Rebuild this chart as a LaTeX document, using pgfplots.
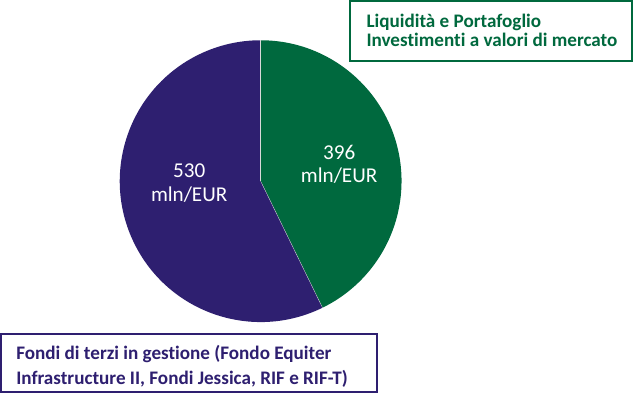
\documentclass[border=0pt]{standalone}
\usepackage{pgfplots}
\usepackage{pgfplotstable}
\pgfplotsset{compat=1.18}
\usepackage{fontspec}
\setmainfont{Carlito}[Ligatures=NoCommon]
\definecolor{pgreen}{RGB}{0,105,62}
\definecolor{ppurple}{RGB}{46,31,112}
\pgfplotstableread{
label value
Liquidita 396
Fondi 530
}\piedata
\begin{document}
\begin{tikzpicture}
\pgfplotstablegetelem{0}{value}\of\piedata \let\va\pgfplotsretval
\pgfplotstablegetelem{1}{value}\of\piedata \let\vb\pgfplotsretval
\pgfmathsetmacro{\frac}{\va/(\va+\vb)}
\pgfmathsetmacro{\angA}{90-360*\frac}
\begin{axis}[x=1pt,y=1pt,xmin=0,xmax=633,ymin=0,ymax=395,hide axis,clip=false,scale only axis]
\fill[pgreen] (axis cs:260,215) -- (axis cs:260,355) arc[start angle=90,end angle=\angA,radius=140pt] -- cycle;
\fill[ppurple] (axis cs:260,215) -- ++(\angA:140pt) arc[start angle=\angA,end angle=-270,radius=140pt] -- cycle;
\draw[white!70!gray,line width=0.3pt] (axis cs:260,215) -- (axis cs:260,355);
\draw[white!70!gray,line width=0.3pt] (axis cs:260,215) -- ++(\angA:140pt);
% labels
\node[white,font=\fontsize{21}{24}\selectfont] at (axis cs:338,244) {\va};
\node[white,font=\fontsize{21}{24}\selectfont] at (axis cs:338,220) {mln/EUR};
\node[white,font=\fontsize{21}{24}\selectfont] at (axis cs:189,225) {\vb};
\node[white,font=\fontsize{21}{24}\selectfont] at (axis cs:189,202) {mln/EUR};
% green box
\draw[pgreen,line width=2pt,fill=white] (axis cs:349,334) rectangle (axis cs:629,394);
\node[pgreen,anchor=base west,inner sep=0pt,font=\bfseries\fontsize{19}{23}\selectfont] at (axis cs:365,368) {Liquidità e Portafoglio};
\node[pgreen,anchor=base west,inner sep=0pt,font=\bfseries\fontsize{19}{23}\selectfont] at (axis cs:365,349) {Investimenti a valori di mercato};
% purple box
\draw[ppurple,line width=2pt,fill=white] (axis cs:2,5) rectangle (axis cs:376,63);
\node[ppurple,anchor=base west,inner sep=0pt,font=\bfseries\fontsize{19}{23}\selectfont] at (axis cs:17,38) {Fondi di terzi in gestione (Fondo Equiter};
\node[ppurple,anchor=base west,inner sep=0pt,font=\bfseries\fontsize{19}{23}\selectfont] at (axis cs:17,13) {Infrastructure II, Fondi Jessica, RIF e RIF-T)};
\end{axis}
\end{tikzpicture}
\end{document}
